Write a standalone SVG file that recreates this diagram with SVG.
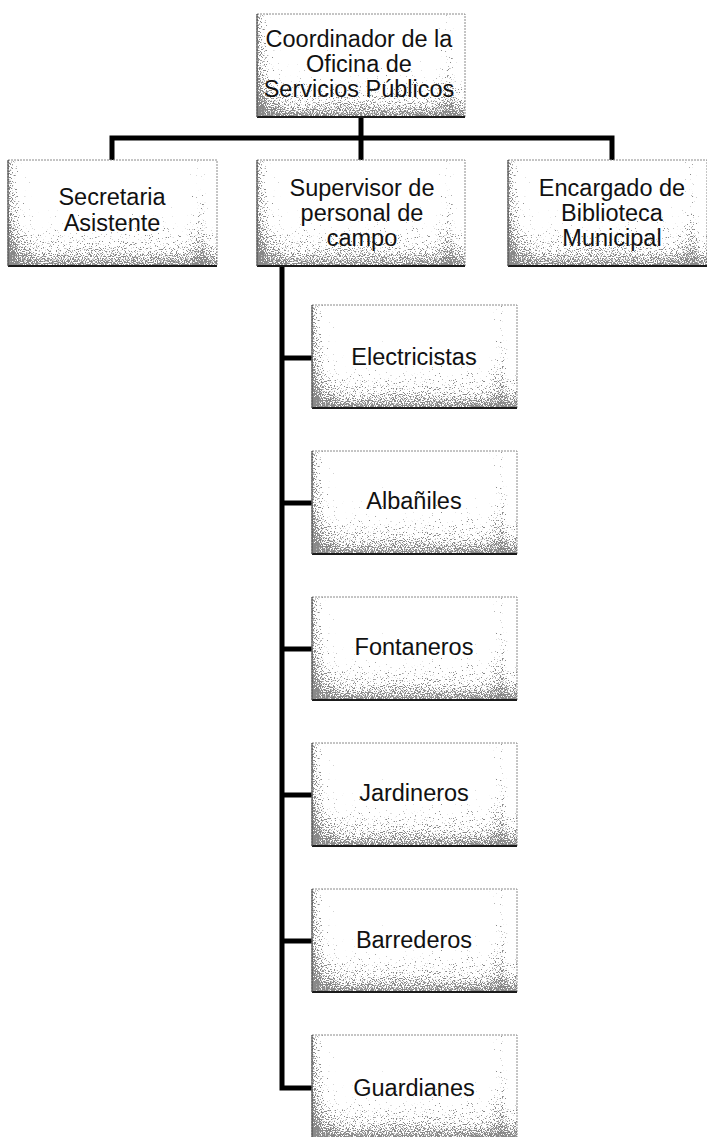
<svg xmlns="http://www.w3.org/2000/svg" width="707" height="1137" viewBox="0 0 707 1137">
  <style>
    .face { fill: #ffffff; stroke: #8a8a8a; stroke-width: 1; stroke-dasharray: 2 1; }
    .edge { fill: none; stroke: #1a1a1a; stroke-width: 2; }
    .side { fill: none; stroke: #555; stroke-width: 1.2; }
    .lbl { font-family: "Liberation Sans", Arial, Helvetica, sans-serif; font-size: 23.5px; fill: #111; text-anchor: middle; }
    .wire { fill: none; stroke: #000; stroke-width: 5; stroke-linejoin: miter; stroke-linecap: butt; }
  </style>
  <defs>
    <!-- density maps for the stippled shading -->
    <linearGradient id="shadeV" x1="0" y1="0" x2="0" y2="1">
      <stop offset="0" stop-color="#000" stop-opacity="0"/>
      <stop offset="0.35" stop-color="#000" stop-opacity="0.02"/>
      <stop offset="0.6" stop-color="#000" stop-opacity="0.12"/>
      <stop offset="0.85" stop-color="#000" stop-opacity="0.3"/>
      <stop offset="1" stop-color="#000" stop-opacity="0.5"/>
    </linearGradient>
    <linearGradient id="shadeH" x1="0" y1="0" x2="1" y2="0">
      <stop offset="0" stop-color="#000" stop-opacity="0.4"/>
      <stop offset="0.06" stop-color="#000" stop-opacity="0.12"/>
      <stop offset="0.14" stop-color="#000" stop-opacity="0"/>
      <stop offset="0.84" stop-color="#000" stop-opacity="0"/>
      <stop offset="0.93" stop-color="#000" stop-opacity="0.18"/>
      <stop offset="0.97" stop-color="#000" stop-opacity="0"/>
    </linearGradient>
    <filter id="stipple" x="0" y="0" width="1" height="1" color-interpolation-filters="sRGB">
      <feTurbulence type="fractalNoise" baseFrequency="0.85" numOctaves="2" seed="7" result="noise"/>
      <feColorMatrix in="noise" type="matrix" values="0 0 0 0 0  0 0 0 0 0  0 0 0 0 0  1 0 0 0 0" result="na"/>
      <feComposite in="SourceGraphic" in2="na" operator="arithmetic" k1="0" k2="10" k3="-10" k4="1.3" result="dots"/>
      <feColorMatrix in="dots" type="matrix" values="0 0 0 0 0.42  0 0 0 0 0.42  0 0 0 0 0.42  0 0 0 0.8 0"/>
    </filter>
  </defs>

  <!-- connectors -->
  <g id="connectors">
    <path class="wire" d="M361,117 V138"/>
    <path class="wire" d="M112,160 V138 H612 V160"/>
    <path class="wire" d="M361,138 V160"/>
    <path class="wire" d="M282,266 V1088 H312"/>
    <path class="wire" d="M282,358 H312"/>
    <path class="wire" d="M282,503 H312"/>
    <path class="wire" d="M282,649 H312"/>
    <path class="wire" d="M282,795 H312"/>
    <path class="wire" d="M282,941 H312"/>
  </g>

  <!-- top level -->
  <g id="coordinador" transform="translate(257,14)">
    <rect class="face" width="208" height="103"/>
    <g filter="url(#stipple)"><rect width="208" height="103" fill="url(#shadeV)"/><rect width="208" height="103" fill="url(#shadeH)"/></g>
    <path class="edge" d="M0,103 H208"/>
    <path class="side" d="M0,0 V103"/>
    <text class="lbl" x="102" y="33">Coordinador de la</text>
    <text class="lbl" x="102" y="58">Oficina de</text>
    <text class="lbl" x="102" y="83">Servicios Públicos</text>
  </g>

  <!-- second level -->
  <g id="secretaria" transform="translate(8,160)">
    <rect class="face" width="209" height="106"/>
    <g filter="url(#stipple)"><rect width="209" height="106" fill="url(#shadeV)"/><rect width="209" height="106" fill="url(#shadeH)"/></g>
    <path class="edge" d="M0,106 H209"/>
    <path class="side" d="M0,0 V106"/>
    <text class="lbl" x="104" y="45">Secretaria</text>
    <text class="lbl" x="104" y="71">Asistente</text>
  </g>

  <g id="supervisor" transform="translate(257,160)">
    <rect class="face" width="208" height="106"/>
    <g filter="url(#stipple)"><rect width="208" height="106" fill="url(#shadeV)"/><rect width="208" height="106" fill="url(#shadeH)"/></g>
    <path class="edge" d="M0,106 H208"/>
    <path class="side" d="M0,0 V106"/>
    <text class="lbl" x="105" y="36">Supervisor de</text>
    <text class="lbl" x="105" y="61">personal de</text>
    <text class="lbl" x="105" y="86">campo</text>
  </g>

  <g id="encargado" transform="translate(508,160)">
    <rect class="face" width="199" height="106"/>
    <g filter="url(#stipple)"><rect width="199" height="106" fill="url(#shadeV)"/><rect width="199" height="106" fill="url(#shadeH)"/></g>
    <path class="edge" d="M0,106 H199"/>
    <path class="side" d="M0,0 V106"/>
    <text class="lbl" x="104" y="36">Encargado de</text>
    <text class="lbl" x="104" y="61">Biblioteca</text>
    <text class="lbl" x="104" y="86">Municipal</text>
  </g>

  <!-- field staff -->
  <g id="electricistas" transform="translate(312,305)">
    <rect class="face" width="205" height="103"/>
    <g filter="url(#stipple)"><rect width="205" height="103" fill="url(#shadeV)"/><rect width="205" height="103" fill="url(#shadeH)"/></g>
    <path class="edge" d="M0,103 H205"/>
    <path class="side" d="M0,0 V103"/>
    <text class="lbl" x="102" y="60">Electricistas</text>
  </g>

  <g id="albaniles" transform="translate(312,451)">
    <rect class="face" width="205" height="103"/>
    <g filter="url(#stipple)"><rect width="205" height="103" fill="url(#shadeV)"/><rect width="205" height="103" fill="url(#shadeH)"/></g>
    <path class="edge" d="M0,103 H205"/>
    <path class="side" d="M0,0 V103"/>
    <text class="lbl" x="102" y="58">Albañiles</text>
  </g>

  <g id="fontaneros" transform="translate(312,597)">
    <rect class="face" width="205" height="103"/>
    <g filter="url(#stipple)"><rect width="205" height="103" fill="url(#shadeV)"/><rect width="205" height="103" fill="url(#shadeH)"/></g>
    <path class="edge" d="M0,103 H205"/>
    <path class="side" d="M0,0 V103"/>
    <text class="lbl" x="102" y="58">Fontaneros</text>
  </g>

  <g id="jardineros" transform="translate(312,743)">
    <rect class="face" width="205" height="103"/>
    <g filter="url(#stipple)"><rect width="205" height="103" fill="url(#shadeV)"/><rect width="205" height="103" fill="url(#shadeH)"/></g>
    <path class="edge" d="M0,103 H205"/>
    <path class="side" d="M0,0 V103"/>
    <text class="lbl" x="102" y="58">Jardineros</text>
  </g>

  <g id="barrederos" transform="translate(312,889)">
    <rect class="face" width="205" height="103"/>
    <g filter="url(#stipple)"><rect width="205" height="103" fill="url(#shadeV)"/><rect width="205" height="103" fill="url(#shadeH)"/></g>
    <path class="edge" d="M0,103 H205"/>
    <path class="side" d="M0,0 V103"/>
    <text class="lbl" x="102" y="59">Barrederos</text>
  </g>

  <g id="guardianes" transform="translate(312,1035)">
    <rect class="face" width="205" height="103"/>
    <g filter="url(#stipple)"><rect width="205" height="103" fill="url(#shadeV)"/><rect width="205" height="103" fill="url(#shadeH)"/></g>
    <path class="edge" d="M0,103 H205"/>
    <path class="side" d="M0,0 V103"/>
    <text class="lbl" x="102" y="61">Guardianes</text>
  </g>
</svg>
